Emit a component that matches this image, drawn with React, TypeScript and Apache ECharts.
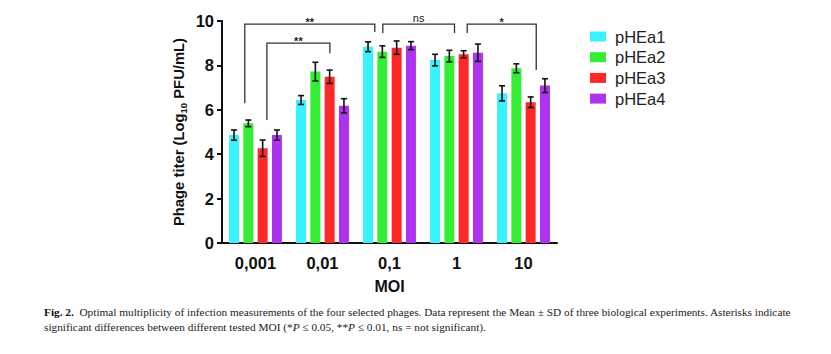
import React, { useEffect, useRef } from "react";
import * as echarts from "echarts";

const categories = ["0,001", "0,01", "0,1", "1", "10"];
const seriesNames = ["pHEa1", "pHEa2", "pHEa3", "pHEa4"];
const pHEa1 = [4.86, 6.44, 8.84, 8.24, 6.74];
const pHEa2 = [5.39, 7.72, 8.62, 8.42, 7.87];
const pHEa3 = [4.27, 7.49, 8.8, 8.5, 6.34];
const pHEa4 = [4.86, 6.18, 8.89, 8.57, 7.09];
const sd1 = [0.23, 0.2, 0.22, 0.26, 0.34];
const sd2 = [0.15, 0.42, 0.26, 0.26, 0.2];
const sd3 = [0.37, 0.3, 0.3, 0.16, 0.24];
const sd4 = [0.23, 0.32, 0.18, 0.39, 0.31];
const colors = ["#38F2FF", "#33EE33", "#FF2828", "#AD33EE"];
const yTicks = [0, 2, 4, 6, 8, 10];

// brackets: [x start (category units), x end, y top, y left end, y right end]
const bracketX1 = [-0.16, 0.17, 1.9, 3.16];
const bracketX2 = [1.78, 1.11, 2.97, 4.19];
const bracketTop = [9.86, 9.0, 9.86, 9.86];
const bracketLeftEnd = [6.3, 5.54, 9.46, 9.46];
const bracketRightEnd = [9.5, 8.55, 9.46, 7.79];
const bracketLabels = ["**", "**", "ns", "*"];

const BAR_W = 10;
const GAP = 4.3;

export default function App() {
  const ref = useRef<HTMLDivElement>(null);
  useEffect(() => {
    if (!ref.current) return;
    const chart = echarts.init(ref.current, null, { renderer: "svg" });
    const values = [pHEa1, pHEa2, pHEa3, pHEa4];
    const sds = [sd1, sd2, sd3, sd4];
    const font = "Liberation Sans, Arial, sans-serif";

    const barSeries = values.map((v, i) => ({
      name: seriesNames[i],
      type: "bar",
      data: v,
      barWidth: BAR_W,
      barGap: (GAP / BAR_W) * 100 + "%",
      itemStyle: { color: colors[i] },
      z: 2,
    }));

    const errSeries = values.map((v, i) => ({
      type: "custom",
      silent: true,
      z: 5,
      data: v.map((m, k) => [k, m, sds[i][k]]),
      encode: { x: 0, y: 1 },
      renderItem: (params: any, api: any) => {
        const k = api.value(0);
        const m = api.value(1);
        const s = api.value(2);
        const off = (i - 1.5) * (BAR_W + GAP);
        const hi = api.coord([k, m + s]);
        const lo = api.coord([k, m - s]);
        const x = hi[0] + off;
        const cap = 3;
        const st = { stroke: "#111", lineWidth: 1.6 };
        return {
          type: "group",
          children: [
            { type: "line", shape: { x1: x, y1: hi[1], x2: x, y2: lo[1] }, style: st },
            { type: "line", shape: { x1: x - cap, y1: hi[1], x2: x + cap, y2: hi[1] }, style: st },
            { type: "line", shape: { x1: x - cap, y1: lo[1], x2: x + cap, y2: lo[1] }, style: st },
          ],
        };
      },
    }));

    const bracketSeries = {
      type: "custom",
      silent: true,
      z: 6,
      data: bracketX1.map((x1, j) => [0, bracketTop[j], x1, bracketX2[j], bracketLeftEnd[j], bracketRightEnd[j]]),
      encode: { x: 0, y: 1 },
      renderItem: (params: any, api: any) => {
        const j = params.dataIndex;
        const base = api.coord([0, 0]);
        const bw = api.size([1, 0])[0];
        const xa = base[0] + api.value(2) * bw;
        const xb = base[0] + api.value(3) * bw;
        const yt = api.coord([0, api.value(1)])[1];
        const yl = api.coord([0, api.value(4)])[1];
        const yr = api.coord([0, api.value(5)])[1];
        const lab = bracketLabels[j];
        const isNs = lab === "ns";
        return {
          type: "group",
          children: [
            {
              type: "polyline",
              shape: { points: [[xa, yl], [xa, yt], [xb, yt], [xb, yr]] },
              style: { stroke: "#333", lineWidth: 1.3, fill: null },
            },
            {
              type: "text",
              x: (xa + xb) / 2,
              y: isNs ? yt - 1 : yt + 3,
              style: {
                text: lab,
                font: isNs ? "11px " + font : "bold 11px " + font,
                fill: "#222",
                align: "center",
                verticalAlign: "bottom",
              },
            },
          ],
        };
      },
    };

    chart.setOption({
      animation: false,
      grid: { left: 222, right: 274, top: 21, bottom: 111, containLabel: false },
      legend: {
        data: seriesNames,
        orient: "vertical",
        left: 590,
        top: 28,
        padding: 0,
        icon: "rect",
        itemWidth: 16,
        itemHeight: 10,
        itemGap: 3.7,
        textStyle: { fontSize: 16.5, fontFamily: font, color: "#222", lineHeight: 17, padding: [0, 0, 0, 4] },
      },
      xAxis: {
        type: "category",
        data: categories,
        name: "MOI",
        nameLocation: "middle",
        nameGap: 35,
        nameTextStyle: { fontSize: 16, fontWeight: "bold", fontFamily: font, color: "#111" },
        axisLine: { lineStyle: { color: "#111", width: 2 } },
        axisTick: { alignWithLabel: true, length: 6, lineStyle: { color: "#111", width: 2 } },
        axisLabel: { fontSize: 16.5, fontWeight: "bold", fontFamily: font, color: "#111", margin: 11 },
      },
      yAxis: {
        type: "value",
        min: 0,
        max: 10,
        interval: 2,
        name: "{a|Phage titer (Log}{s|10}{a| PFU/mL)}",
        nameLocation: "middle",
        nameGap: 34,
        nameTextStyle: {
          rich: {
            a: { fontSize: 14.8, fontWeight: "bold", fontFamily: font, color: "#111", lineHeight: 18, verticalAlign: "middle" },
            s: { fontSize: 9.5, fontWeight: "bold", fontFamily: font, color: "#111", lineHeight: 18, verticalAlign: "bottom", padding: [6, 0, 0, 0] },
          },
        },
        axisLine: { show: true, lineStyle: { color: "#111", width: 2 } },
        axisTick: { show: true, length: 5, lineStyle: { color: "#111", width: 2 } },
        axisLabel: {
          fontSize: 16.5,
          fontWeight: "bold",
          fontFamily: font,
          color: "#111",
          margin: 8,
          formatter: (v: number) => (yTicks.includes(v) ? String(v) : ""),
        },
        splitLine: { show: false },
      },
      graphic: [
        {
          type: "text",
          left: 44,
          top: 304,
          style: {
            text:
              "{b|Fig. 2.}  Optimal multiplicity of infection measurements of the four selected phages. Data represent the Mean ± SD of three biological experiments. Asterisks indicate\nsignificant differences between different tested MOI (*{i|P} ≤ 0.05, **{i|P} ≤ 0.01, ns = not significant).",
            font: "11.3px Liberation Serif, serif",
            fill: "#222",
            lineHeight: 15,
            rich: {
              b: { font: "bold 11.3px Liberation Serif, serif", fill: "#111", lineHeight: 15 },
              i: { font: "italic 11.3px Liberation Serif, serif", fill: "#222", lineHeight: 15 },
            },
          },
        },
      ],
      series: [...barSeries, ...errSeries, bracketSeries],
    });
    return () => chart.dispose();
  }, []);
  return (
    <div
      ref={ref}
      style={{ position: "fixed", left: 0, top: 0, width: 831, height: 354, background: "#fff" }}
    />
  );
}
